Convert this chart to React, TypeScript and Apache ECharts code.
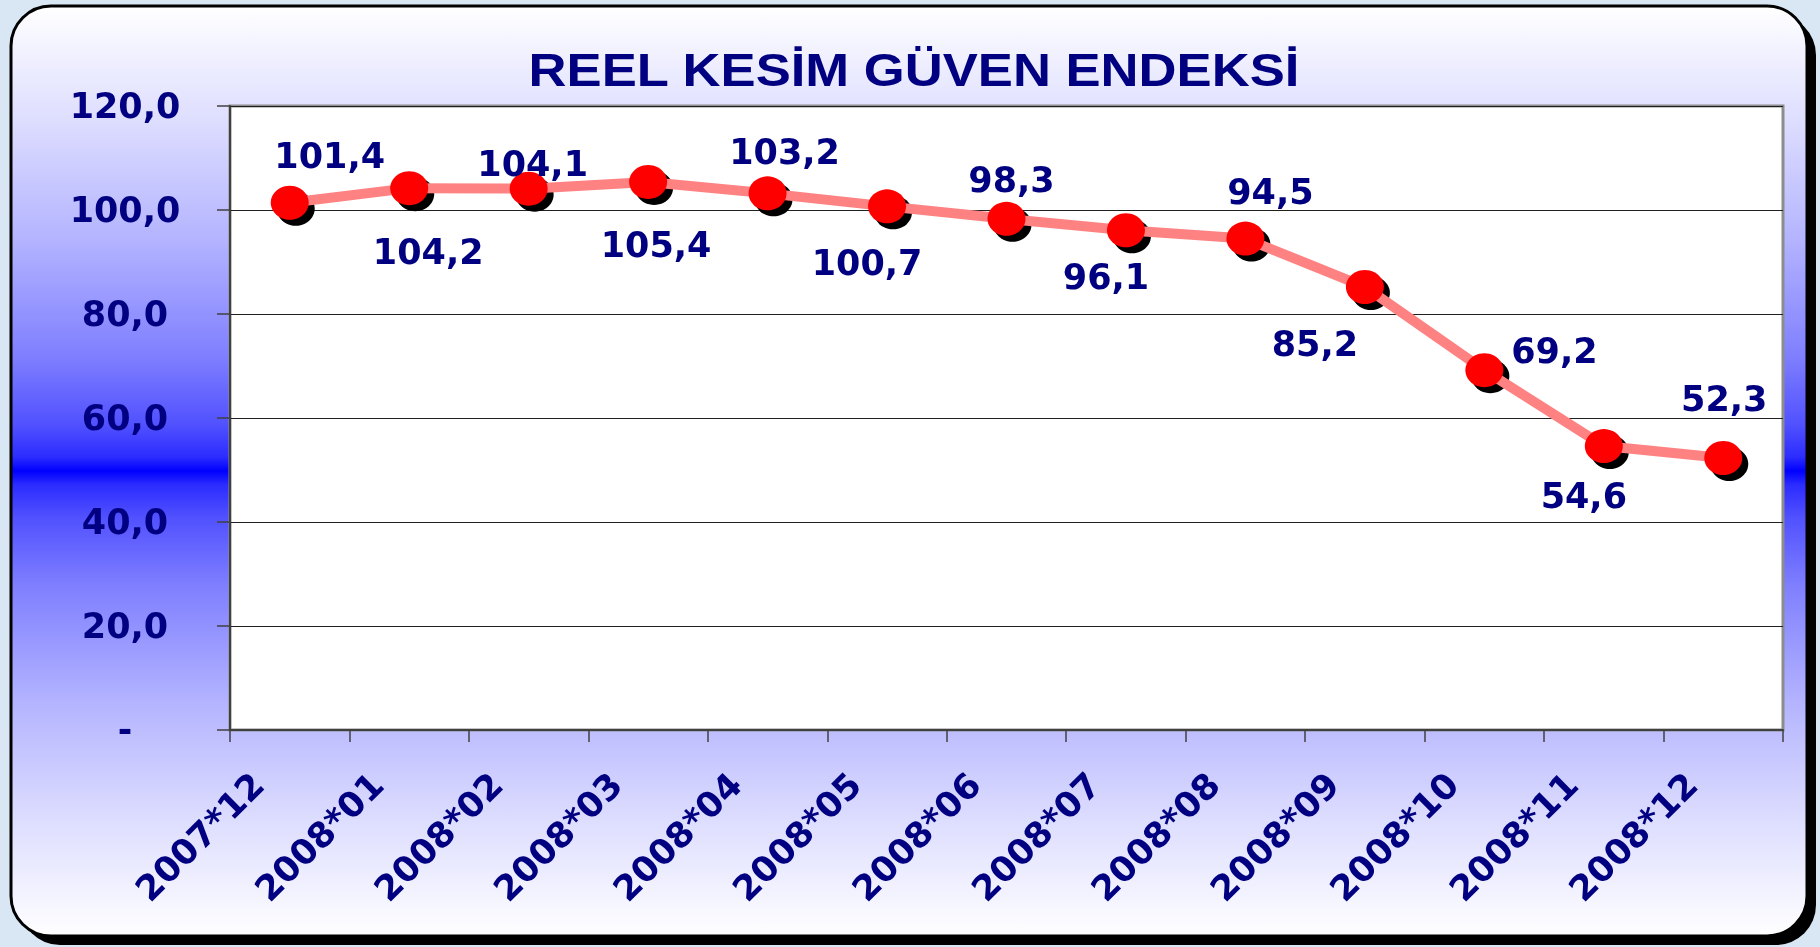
import React, { useEffect, useRef } from "react";
import * as echarts from "echarts";

const TITLE = "REEL KESİM GÜVEN ENDEKSİ";
const categories = [
  "2007*12", "2008*01", "2008*02", "2008*03", "2008*04", "2008*05", "2008*06",
  "2008*07", "2008*08", "2008*09", "2008*10", "2008*11", "2008*12",
];
const values = [101.4, 104.2, 104.1, 105.4, 103.2, 100.7, 98.3, 96.1, 94.5, 85.2, 69.2, 54.6, 52.3];
const yMin = 0;
const yMax = 120;
const yInterval = 20;
// label placement relative to each point (layout only)
const labelOffsets: number[][] = [
  [40, -47], [19, 64], [4, -25], [8, 63], [17, -41], [-20, 57], [5, -39],
  [-20, 47], [25, -47], [-50, 57], [70, -19], [-20, 50], [1, -59],
];

const NAVY = "#000080";
const fmt = (v: number) => (v === 0 ? "-" : v.toFixed(1).replace(".", ","));

export default function App() {
  const ref = useRef<HTMLDivElement>(null);
  useEffect(() => {
    if (!ref.current) return;
    const chart = echarts.init(ref.current, undefined, { renderer: "svg" });
    const bgGrad = new echarts.graphic.LinearGradient(0, 0, 0, 1, [
      { offset: 0, color: "#ffffff" },
      { offset: 0.125, color: "#ddddff" },
      { offset: 0.25, color: "#b4b4ff" },
      { offset: 0.375, color: "#8080ff" },
      { offset: 0.45, color: "#5151ff" },
      { offset: 0.485, color: "#2c2cff" },
      { offset: 0.5, color: "#0000ff" },
      { offset: 0.515, color: "#2c2cff" },
      { offset: 0.55, color: "#5151ff" },
      { offset: 0.625, color: "#8080ff" },
      { offset: 0.75, color: "#b4b4ff" },
      { offset: 0.875, color: "#ddddff" },
      { offset: 1, color: "#ffffff" },
    ]);
    const labelFont = {
      fontFamily: "DejaVu Sans",
      fontWeight: "bold" as const,
      fontSize: 35,
      color: NAVY,
    };
    chart.setOption({
      animation: false,
      graphic: {
        elements: [
          { type: "rect", z: -12, silent: true, shape: { x: 0, y: 0, width: 1820, height: 947 }, style: { fill: "#d9e7f5" } },
          { type: "rect", z: -11, silent: true, shape: { x: 20, y: 15, width: 1796, height: 930, r: 40 }, style: { fill: "#000" } },
          { type: "rect", z: -10, silent: true, shape: { x: 11, y: 6, width: 1796, height: 930, r: 40 }, style: { fill: bgGrad, stroke: "#000", lineWidth: 3 } },
          {
            type: "text", z: 10, x: 914, y: 70, scaleX: 1.12, silent: true,
            style: {
              text: TITLE, fill: NAVY, font: 'bold 47px "Liberation Sans", Arial, sans-serif',
              textAlign: "center", textVerticalAlign: "middle",
            },
          },
        ],
      },
      grid: {
        left: 230, right: 37, top: 106, bottom: 217,
        show: true, backgroundColor: "#ffffff", borderColor: "#8c8c8c", borderWidth: 3,
      },
      xAxis: {
        type: "category",
        data: categories,
        boundaryGap: true,
        axisLine: { show: true, lineStyle: { color: "#404040", width: 2 } },
        axisTick: { show: true, length: 12, lineStyle: { color: "#404040", width: 1.5 } },
        splitLine: { show: false },
        axisLabel: { ...labelFont, interval: 0, rotate: 45, margin: 17, padding: [0, 45, 0, 0] },
      },
      yAxis: {
        type: "value",
        min: yMin, max: yMax, interval: yInterval,
        axisLine: { show: true, lineStyle: { color: "#404040", width: 2 } },
        axisTick: { show: true, length: 13, lineStyle: { color: "#404040", width: 1.5 } },
        splitLine: { show: true, lineStyle: { color: "#202020", width: 1.2 } },
        axisLabel: { ...labelFont, align: "center", margin: 105, formatter: (v: number) => fmt(v) },
      },
      series: [
        {
          type: "line",
          name: "shadow",
          data: values,
          z: 2,
          silent: true,
          symbol: "circle",
          symbolSize: [38, 34],
          symbolOffset: [6, 6],
          showAllSymbol: true,
          itemStyle: { color: "#000000" },
          lineStyle: { width: 0, opacity: 0 },
          label: { show: false },
        },
        {
          type: "line",
          name: "REEL KESİM GÜVEN ENDEKSİ",
          z: 3,
          data: values.map((v, i) => ({ value: v, label: { offset: labelOffsets[i] } })),
          symbol: "circle",
          symbolSize: [38, 34],
          showAllSymbol: true,
          itemStyle: { color: "#ff0000" },
          lineStyle: { color: "#ff8282", width: 10 },
          label: {
            show: true,
            position: "inside",
            ...labelFont,
            formatter: (p: any) => fmt(p.value),
          },
        },
      ],
    });
    return () => chart.dispose();
  }, []);
  return (
    <div
      ref={ref}
      style={{ position: "fixed", left: 0, top: 0, width: 1820, height: 947 }}
    />
  );
}
